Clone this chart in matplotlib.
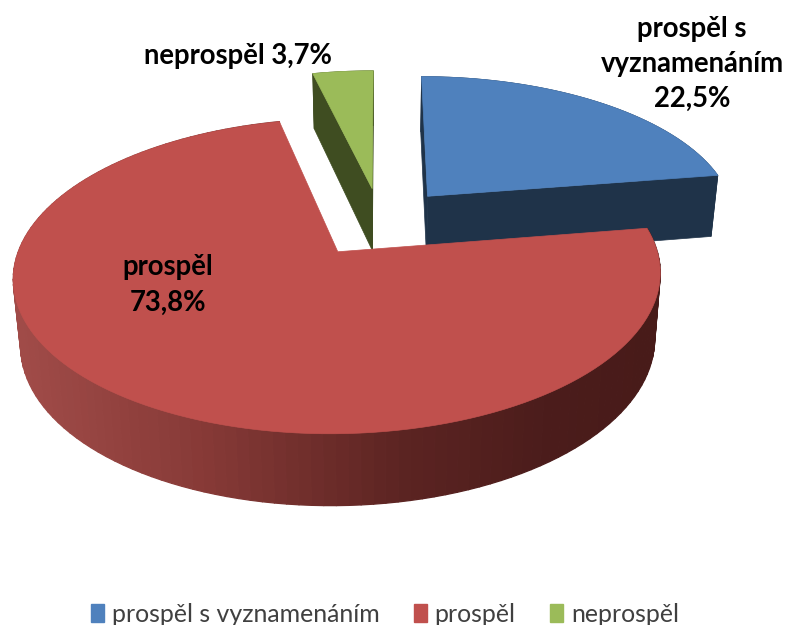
import numpy as np
import matplotlib
matplotlib.use("Agg")
import matplotlib.pyplot as plt
from matplotlib.patches import Polygon, Patch
from matplotlib.collections import PolyCollection

categories = ["prospěl s vyznamenáním", "prospěl", "neprospěl"]
values = [22.5, 73.8, 3.7]
label_texts = ["prospěl s\nvyznamenáním\n22,5%", "prospěl\n73,8%", "neprospěl 3,7%"]
top_colors = ["#4f81bd", "#c0504d", "#9bbb59"]
side_colors = ["#1f3349", None, "#3f4d21"]
label_pos = [(692, 64), (168, 285), (238, 56)]

plt.rcParams['font.family'] = ['Lato', 'DejaVu Sans']
fig = plt.figure(figsize=(7.9, 6.25), dpi=100)
ax = fig.add_axes([0, 0, 1, 1])
ax.set_xlim(0, 790)
ax.set_ylim(625, 0)
ax.axis("off")

CX, CY, RX, RY, K, EXPL = 380.5, 222.0, 310.0, 144.8, 0.15, 0.24

def top(u, v):
    w = 1 / (1 - K * v)
    return CX + RX * u * w, CY + RY * v * w

def bottom(u, v):
    x, y = top(u, v)
    return CX + (x - CX) * 0.98, y + 63.5 + 7 * v

stops_x = [20, 200, 400, 550, 650]
stops_c = np.array([(160, 75, 72), (135, 58, 55), (92, 36, 34), (75, 28, 27), (72, 27, 25)]) / 255

angles = np.cumsum([0] + values) / 100 * 2 * np.pi
order = [2, 0, 1]
for i in order:
    a0, a1 = angles[i], angles[i + 1]
    mid = (a0 + a1) / 2
    ou, ov = EXPL * np.sin(mid), -EXPL * np.cos(mid)
    th = np.linspace(a0, a1, max(8, int((a1 - a0) * 30)))
    u = ou + np.sin(th)
    v = ov - np.cos(th)
    tx, ty = top(u, v)
    bx, by = bottom(u, v)
    ax_, ay_ = top(ou, ov)
    abx, aby = bottom(ou, ov)
    z = order.index(i) * 3
    if side_colors[i]:
        col = side_colors[i]
        for e in (0, -1):
            ax.add_patch(Polygon([(ax_, ay_), (tx[e], ty[e]), (bx[e], by[e]), (abx, aby)],
                                 fc=col, ec=col, lw=0.5, zorder=z))
        strip = np.r_[np.c_[tx, ty], np.c_[bx, by][::-1]]
        ax.add_patch(Polygon(strip, fc=col, ec=col, lw=0.5, zorder=z + 1))
    else:
        quads, cols = [], []
        for j in range(len(th) - 1):
            quads.append([(tx[j], ty[j]), (tx[j + 1], ty[j + 1]), (bx[j + 1], by[j + 1]), (bx[j], by[j])])
            xm = (tx[j] + tx[j + 1]) / 2
            cols.append([np.interp(xm, stops_x, stops_c[:, c]) for c in range(3)])
        ax.add_collection(PolyCollection(quads, facecolors=cols, edgecolors=cols, linewidths=0.9,
                                         zorder=z + 1))
    ax.add_patch(Polygon(np.r_[[(ax_, ay_)], np.c_[tx, ty]], fc=top_colors[i], ec=top_colors[i],
                         lw=0.5, zorder=z + 2))

for txt, (x, y) in zip(label_texts, label_pos):
    ax.text(x, y, txt, ha="center", va="center", fontsize=19.8, fontweight="bold",
            color="black", linespacing=1.43, zorder=20)

handles = [Patch(fc=c, ec=c) for c in top_colors]
leg = ax.legend(handles, categories, loc="lower center", bbox_to_anchor=(385 / 790, -0.037), ncol=3,
                frameon=False, fontsize=17.9, handlelength=0.52, handleheight=0.7,
                handletextpad=0.3, columnspacing=1.4, labelcolor="#404040")

fig.savefig("out.png", dpi=100, facecolor="white")
